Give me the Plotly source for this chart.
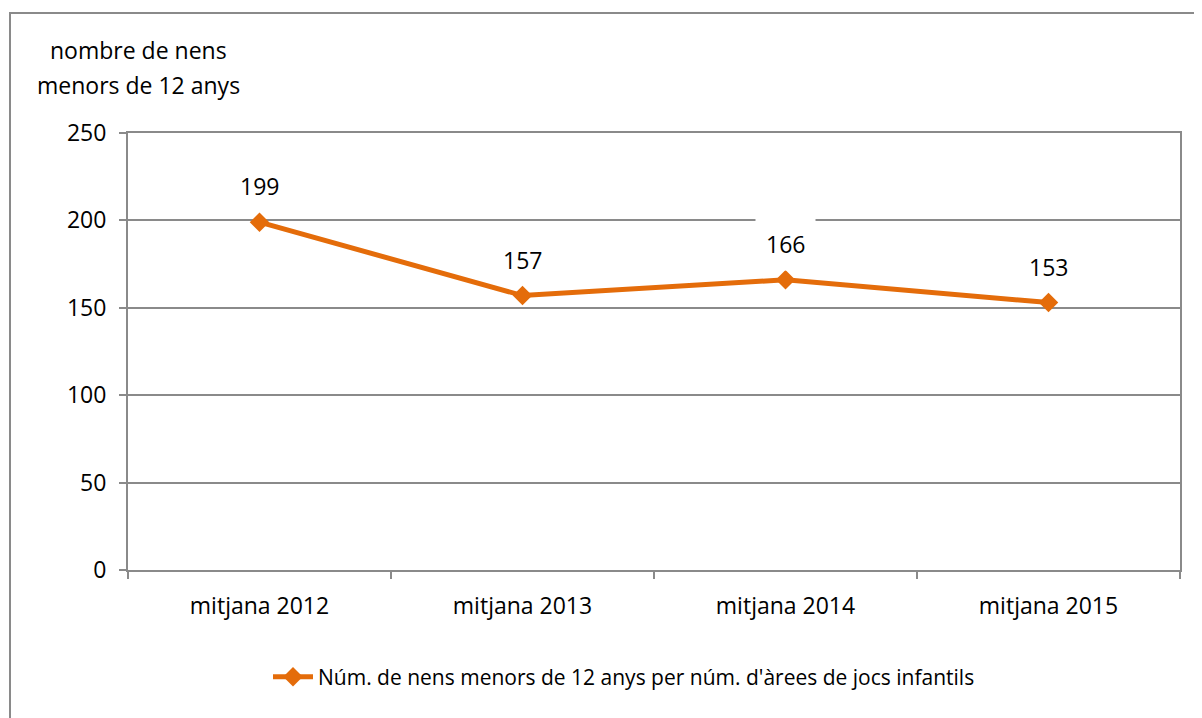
import plotly.graph_objects as go

categories = ["mitjana 2012", "mitjana 2013", "mitjana 2014", "mitjana 2015"]
values = [199, 157, 166, 153]
labels = ["199", "157", "166", "153"]
series_name = "Núm. de nens menors de 12 anys per núm. d'àrees de jocs infantils"
y_title_lines = ["nombre de nens", "menors de 12 anys"]

# page offset (body margin) is 8px
OFF = 8
W, H = 1202 - OFF, 718 - OFF
# plot area in page pixels: x 128..1180, y 133..570
PX0, PX1, PY0, PY1 = 128, 1180, 133, 570
L = PX0 - OFF
T = PY0 - OFF
R = W - (PX1 - OFF)
B = H - (PY1 - OFF)
pw, ph = PX1 - PX0, PY1 - PY0

def px_x(p):
    return (p - PX0) / pw

def px_y(p):
    return (PY1 - p) / ph

FONT = "Open Sans, Noto Sans, sans-serif"
GRID = "#8a8a8a"
ORANGE = "#E46C0A"
FS = 23
YMAX, DTICK = 250, 50
LABEL_SHIFT = 36
BOX_HALF = 27

fig = go.Figure()
fig.add_trace(go.Scatter(
    x=categories, y=values, mode="lines+markers", name=series_name,
    line=dict(color=ORANGE, width=5),
    marker=dict(symbol="diamond", size=15, color=ORANGE),
))

px_per_unit = ph / YMAX
for c, v, t in zip(categories, values, labels):
    centre = v + LABEL_SHIFT / px_per_unit
    half = BOX_HALF / px_per_unit
    crosses_grid = any(abs(g - centre) < half for g in range(0, YMAX + 1, DTICK))
    fig.add_annotation(x=c, y=v, xref="x", yref="y", text=t, showarrow=False,
                       yshift=LABEL_SHIFT,
                       bgcolor="white" if crosses_grid else "rgba(0,0,0,0)",
                       borderpad=10,
                       font=dict(family=FONT, size=FS, color="black"))

for i, line in enumerate(y_title_lines):
    fig.add_annotation(x=px_x(138), y=px_y(50 + 35 * i), xref="paper", yref="paper",
                       xanchor="center", yanchor="middle",
                       text=line, showarrow=False, align="center",
                       font=dict(family=FONT, size=FS, color="black"))

fig.add_shape(type="rect", xref="paper", yref="paper",
              x0=px_x(10), x1=px_x(1215), y0=px_y(730), y1=px_y(13),
              line=dict(color=GRID, width=2), layer="below")

fig.update_layout(
    width=W, height=H,
    margin=dict(l=L, r=R, t=T, b=B, autoexpand=False),
    paper_bgcolor="white", plot_bgcolor="white",
    font=dict(family=FONT, size=FS, color="black"),
    showlegend=True,
    legend=dict(orientation="h", x=px_x(268), xanchor="left", y=px_y(677), yanchor="middle",
                font=dict(family=FONT, size=21, color="black"), itemwidth=40),
    xaxis=dict(range=[-0.5, 3.5], showgrid=False, showline=True, linecolor=GRID, linewidth=2,
               mirror=True, ticks="outside", tickson="boundaries", ticklen=7, tickcolor=GRID,
               tickwidth=2, ticklabelstandoff=14,
               tickfont=dict(family=FONT, size=FS), fixedrange=True),
    yaxis=dict(range=[0, YMAX], dtick=DTICK, showgrid=True, gridcolor=GRID, gridwidth=2,
               showline=True, linecolor=GRID, linewidth=2, mirror=True,
               ticks="outside", ticklen=7, tickcolor=GRID, tickwidth=2, ticklabelstandoff=8,
               tickfont=dict(family=FONT, size=FS), zeroline=False, fixedrange=True),
)

fig.write_html("out.html")
